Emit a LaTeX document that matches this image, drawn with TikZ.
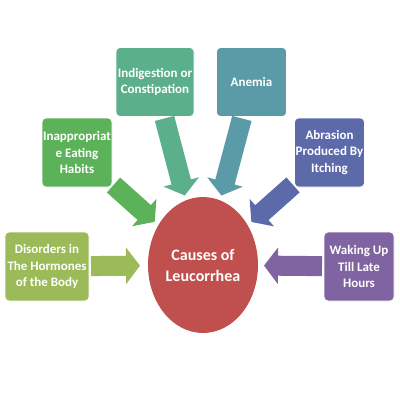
\documentclass[tikz,border=0pt]{standalone}
\usepackage{fontspec}
\setmainfont{Carlito}
\usetikzlibrary{arrows.meta,shapes.geometric}
\definecolor{causered}{RGB}{192,80,77}
\definecolor{indigreen}{RGB}{91,175,138}
\definecolor{anemiablue}{RGB}{91,155,168}
\definecolor{eatgreen}{RGB}{92,178,88}
\definecolor{itchblue}{RGB}{93,106,170}
\definecolor{hormolive}{RGB}{155,187,89}
\definecolor{wakepurple}{RGB}{128,100,162}
\tikzset{%
  >=latex,
  cause box/.style={draw=white,line width=0.8pt,rounded corners=4pt,fill=#1,
    text=white,font=\bfseries\fontsize{13}{16.5}\selectfont,align=center,
    inner sep=0pt,outer sep=0pt,minimum width=70pt,minimum height=69pt},%
  cause arrow/.style={draw=#1,line width=20pt,
    -{Triangle[length=14pt,width=36pt]},shorten <=2pt,shorten >=5pt}%
}

\begin{document}
\begin{tikzpicture}[x=1pt,y=-1pt]
\useasboundingbox (0,0) rectangle (400,400);

\node[ellipse,fill=causered,text=white,inner sep=0pt,outer sep=0pt,
  minimum width=110pt,minimum height=136pt,align=center,
  font=\bfseries\fontsize{16}{21}\selectfont] (lc) at (203,265) {Causes of\\Leucorrhea};

\node[cause box=indigreen,minimum width=78pt] (indi) at (155,82) {Indigestion or\\Constipation};
\node[cause box=anemiablue] (anem) at (251.5,82) {Anemia};
\node[cause box=eatgreen] (eat) at (77,152.5) {Inappropriat\\e Eating\\Habits};
\node[cause box=itchblue] (itch) at (329.5,152.5) {Abrasion\\Produced By\\Itching};
\node[cause box=hormolive,minimum width=84pt] (horm) at (47,266.5) {Disorders in\\The Hormones\\of the Body};
\node[cause box=wakepurple] (wake) at (359,266.5) {Waking Up\\Till Late\\Hours};

% arrows into the centre
\draw[cause arrow=indigreen] (indi) -- (lc);
\draw[cause arrow=anemiablue] (anem) -- (lc);
\draw[cause arrow=eatgreen] (eat) -- (lc);
\draw[cause arrow=itchblue] (itch) -- (lc);
\draw[cause arrow=hormolive,shorten >=8pt] (horm) -- (lc);
\draw[cause arrow=wakepurple,shorten >=6pt] (wake) -- (lc);
\end{tikzpicture}
\end{document}
